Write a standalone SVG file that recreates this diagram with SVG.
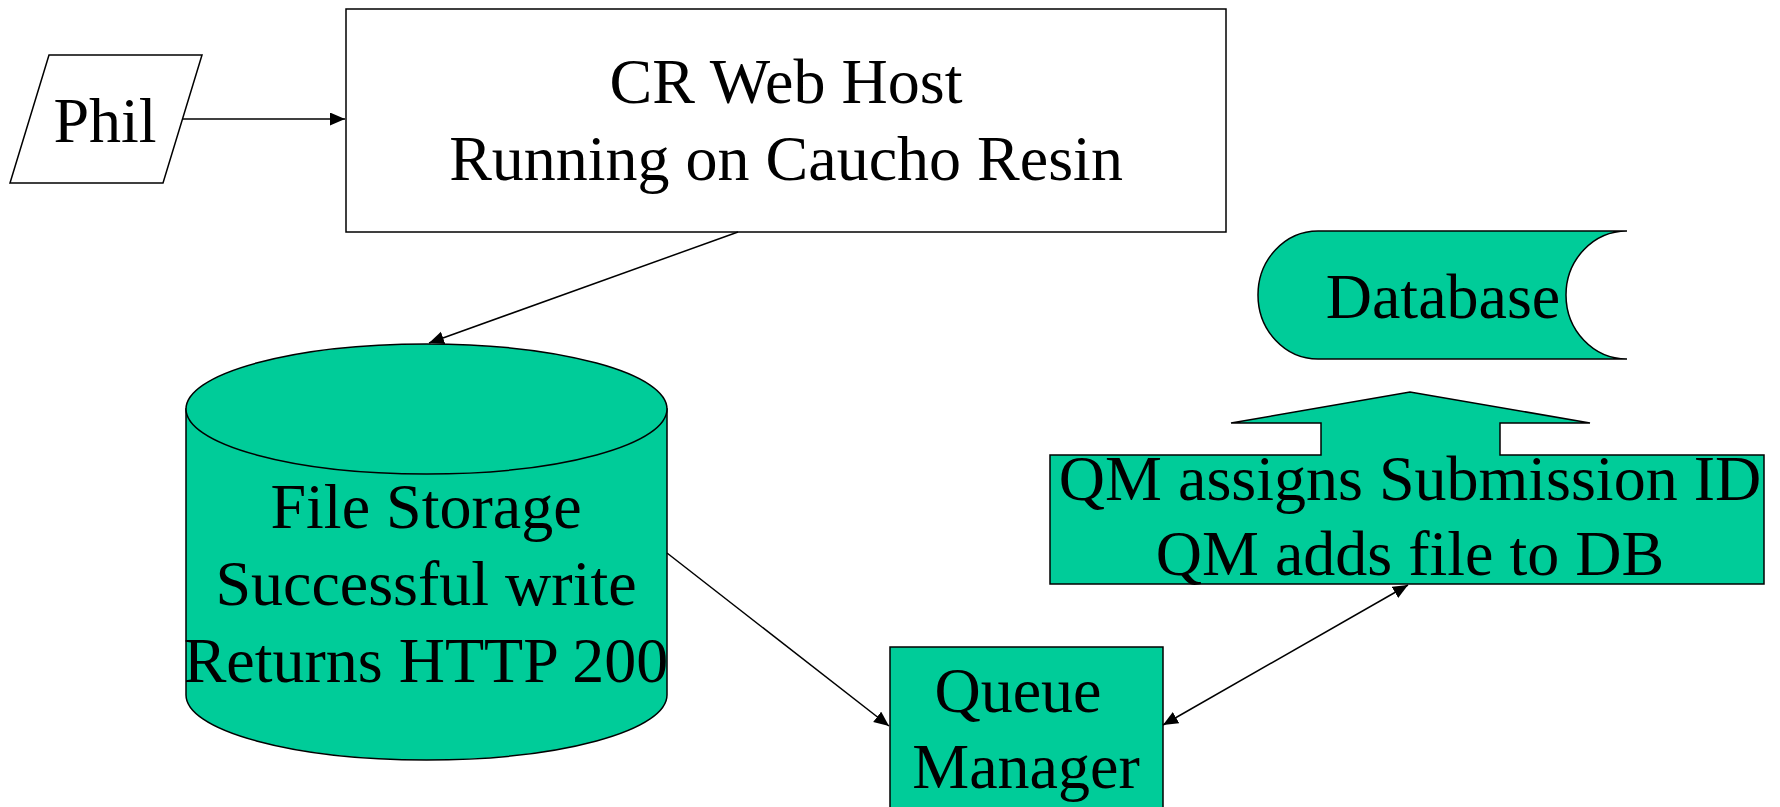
<svg xmlns="http://www.w3.org/2000/svg" width="1780" height="807" viewBox="0 0 1780 807">
<style>
text{font-family:"Liberation Serif","Times New Roman",serif;font-size:64px;fill:#000;text-anchor:middle}
.n{stroke:#000;stroke-width:1.5}
.w{fill:#fff}
.g{fill:#00CC99}
.c{stroke:#000;stroke-width:1.5;fill:none}
</style>
<defs>
<marker id="ah" markerUnits="userSpaceOnUse" markerWidth="16" markerHeight="14" refX="15" refY="6.5" orient="auto-start-reverse">
<path d="M0,0 L15,6.5 L0,13 Z" fill="#000"/>
</marker>
</defs>
<rect width="1780" height="807" fill="#fff"/>
<g id="phil">
<polygon class="n w" points="49,55 202,55 163,183 10,183"/>
<text x="105" y="142">Phil</text>
</g>
<g id="crwebhost">
<rect class="n w" x="346" y="9" width="880" height="223"/>
<text x="786" y="103">CR Web Host</text>
<text x="786" y="180">Running on Caucho Resin</text>
</g>
<g id="filestorage">
<path class="n g" d="M186,409 L186,695 A240.5,65 0 0 0 667,695 L667,409 Z"/>
<ellipse class="n g" cx="426.5" cy="409" rx="240.5" ry="65"/>
<text x="426" y="528">File Storage</text>
<text x="426" y="605">Successful write</text>
<text x="426" y="682">Returns HTTP 200</text>
</g>
<g id="database">
<path class="n g" d="M1318,231 L1627,231 A61,64 0 0 0 1627,359 L1318,359 A60,64 0 0 1 1318,231 Z"/>
<text x="1443" y="318">Database</text>
</g>
<g id="qmcallout">
<path class="n g" d="M1050,455 L1321,455 L1321,423 L1231,423 L1410,392 L1590,423 L1500,423 L1500,455 L1764,455 L1764,584 L1050,584 Z"/>
<text x="1410" y="500">QM assigns Submission ID</text>
<text x="1410" y="575">QM adds file to DB</text>
</g>
<g id="queuemanager">
<rect class="n g" x="890" y="647" width="273" height="175"/>
<text x="1018" y="712">Queue</text>
<text x="1026" y="788">Manager</text>
</g>
<g id="connectors">
<line class="c" x1="183" y1="119" x2="345" y2="119" marker-end="url(#ah)"/>
<line class="c" x1="738" y1="232" x2="429" y2="343" marker-end="url(#ah)"/>
<line class="c" x1="667" y1="553" x2="889" y2="726" marker-end="url(#ah)"/>
<line class="c" x1="1163" y1="725" x2="1408" y2="585" marker-start="url(#ah)" marker-end="url(#ah)"/>
</g>
</svg>
